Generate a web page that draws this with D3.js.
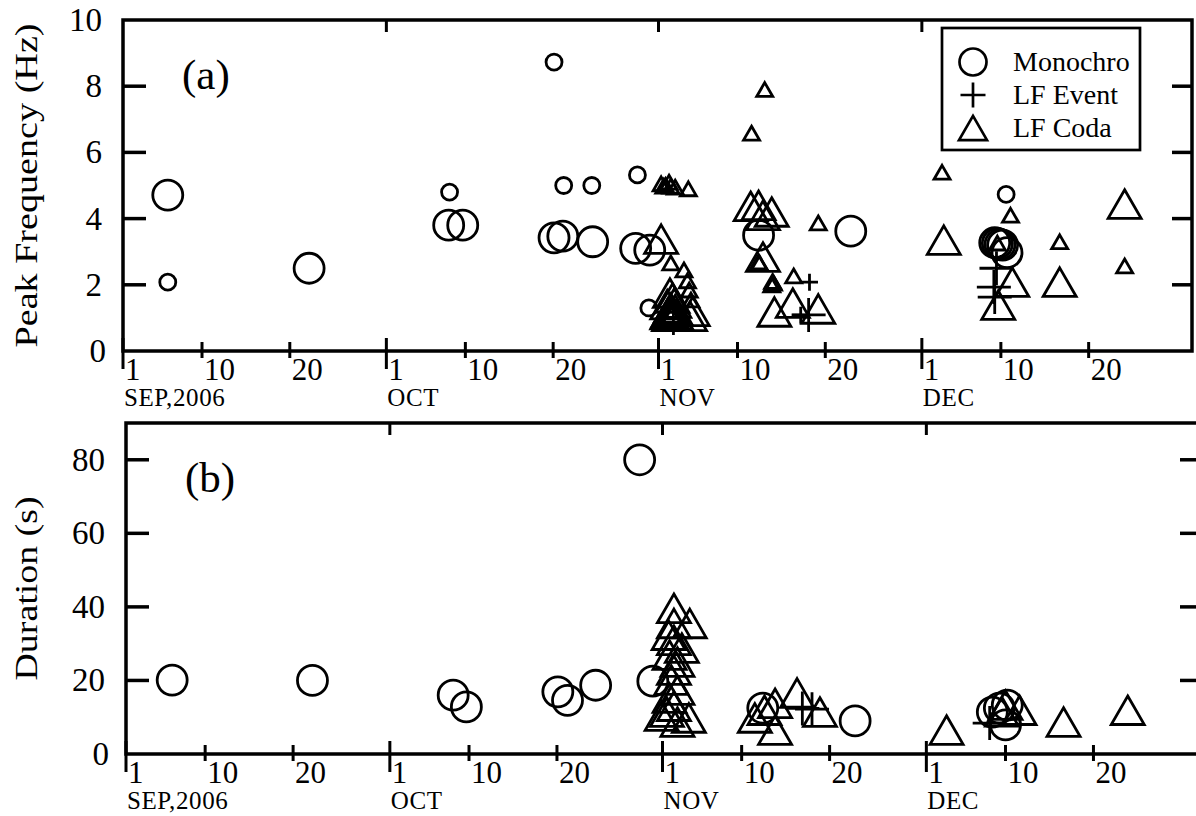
<!DOCTYPE html>
<html>
<head>
<meta charset="utf-8">
<script src="https://cdn.jsdelivr.net/npm/d3@7"></script>
<style>
  body { margin: 0; background: #fff; }
  svg text { font-family: "Liberation Serif", "Times New Roman", serif; fill: #000; }
</style>
</head>
<body>
<div id="chart"></div>
<script>
/* Peak frequency and duration of events, Sep-Dec 2006 */

// time = days after 2006-09-01 00:00 UTC, size L = large marker, S = small marker
const freqMono = [
  [5.1, 4.71, "L"], [5.1, 2.08, "S"], [21.2, 2.5, "L"],
  [37.2, 4.8, "S"], [37.1, 3.8, "L"], [38.7, 3.8, "L"],
  [49.1, 8.73, "S"], [49.1, 3.42, "L"], [50.1, 3.47, "L"], [53.5, 3.3, "L"],
  [50.2, 5.0, "S"], [53.4, 5.0, "S"], [58.6, 5.32, "S"],
  [58.4, 3.1, "L"], [60.0, 3.05, "L"], [59.9, 1.3, "S"],
  [72.4, 3.5, "L"], [82.9, 3.62, "L"], [100.6, 4.73, "S"],
  [99.3, 3.27, "L"], [99.6, 3.25, "L"], [99.9, 3.22, "L"], [100.2, 3.2, "L"], [100.7, 2.97, "L"]
];
const freqEvent = [
  [62.7, 1.0, "L"], [78.2, 2.08, "S"], [78.1, 1.09, "L"], [77.2, 1.08, "S"],
  [99.5, 2.5, "L"], [99.2, 1.93, "L"], [99.3, 1.63, "L"]
];
const freqCoda = [
  [61.3, 5.05, "S"], [61.8, 5.0, "S"], [62.2, 5.1, "S"], [61.6, 4.98, "S"], [62.4, 4.98, "S"],
  [62.9, 4.95, "S"], [64.4, 4.9, "S"],
  [61.3, 3.38, "L"], [62.4, 2.66, "S"], [63.9, 2.45, "S"], [64.3, 2.12, "S"], [64.5, 1.84, "S"],
  [64.7, 1.54, "S"], [64.9, 1.2, "L"], [64.6, 1.05, "L"],
  [62.3, 1.75, "L"], [62.6, 1.6, "L"], [62.0, 1.4, "L"], [62.8, 1.45, "L"], [62.4, 1.3, "L"],
  [62.9, 1.25, "L"], [62.1, 1.15, "L"], [62.5, 1.1, "L"], [62.2, 1.05, "L"], [62.7, 1.05, "L"],
  [62.3, 1.2, "L"], [63.0, 1.1, "L"], [62.0, 1.1, "L"],
  [73.1, 7.9, "S"], [71.6, 6.58, "S"],
  [71.5, 4.37, "L"], [72.4, 4.4, "L"], [73.9, 4.2, "L"], [72.9, 4.1, "L"],
  [79.2, 3.87, "S"], [72.9, 2.84, "L"], [72.4, 2.69, "S"], [72.5, 2.66, "S"],
  [74.0, 2.1, "S"], [74.1, 2.05, "S"], [73.9, 2.0, "S"], [76.4, 2.27, "S"],
  [74.2, 1.18, "L"], [76.3, 1.45, "L"], [79.2, 1.27, "L"],
  [93.3, 5.4, "S"], [93.5, 3.35, "L"], [101.1, 4.1, "S"], [106.7, 3.3, "S"],
  [106.7, 2.08, "L"], [114.1, 4.44, "L"], [114.1, 2.57, "S"],
  [99.7, 1.39, "L"], [101.3, 2.08, "L"], [99.6, 3.26, "S"]
];

const durMono = [
  [5.25, 20.1], [21.2, 20.0], [37.2, 16.0], [38.7, 12.8], [49.1, 16.9], [50.2, 14.6],
  [53.4, 18.7], [58.4, 80], [59.9, 19.8], [72.4, 12.5], [82.9, 9.0],
  [99.3, 12.5], [100.2, 13.3], [100.0, 7.9], [98.5, 11.4]
];
const durEvent = [
  [78.0, 12.2], [76.9, 12.4], [98.2, 8.4]
];
const durCoda = [
  [62.3, 39.6], [64.1, 35.5], [62.3, 35.5], [61.7, 32.3], [62.3, 30.9], [63.2, 28.8],
  [61.8, 26.9], [62.7, 25.0], [62.3, 22.8], [62.0, 20.1], [62.7, 17.4], [61.8, 15.2],
  [62.3, 13.0], [61.5, 11.4], [64.0, 9.8], [62.7, 8.7], [60.9, 10.3],
  [71.5, 9.8], [72.6, 11.9], [73.8, 6.5], [73.8, 13.8], [76.3, 16.6], [78.9, 11.4],
  [93.3, 6.5], [100.0, 13.3], [101.6, 11.9], [99.6, 11.5], [106.6, 8.7], [113.9, 11.9]
];

const months = ["SEP,2006", "OCT", "NOV", "DEC"];
const dayTicks = [1, 10, 20];
const freqTicks = [0, 2, 4, 6, 8, 10];
const durTicks = [0, 20, 40, 60, 80];
const legendItems = ["Monochro", "LF Event", "LF Coda"];

const width = 1196, height = 816;
const t0 = Date.UTC(2006, 8, 1);
const toDate = d => new Date(t0 + d * 864e5);

const svg = d3.select("#chart").append("svg")
    .attr("width", width).attr("height", height)
    .attr("viewBox", [0, 0, width, height]);

// symbol shapes: triangle centred on its box, thin plus, circle by diameter
const triMid = {
  draw(ctx, size) {
    const s = size, h = s * Math.sqrt(3) / 2;
    ctx.moveTo(0, -h / 2); ctx.lineTo(s / 2, h / 2); ctx.lineTo(-s / 2, h / 2); ctx.closePath();
  }
};
const plus = {
  draw(ctx, size) {
    const r = size / 2;
    ctx.moveTo(-r, 0); ctx.lineTo(r, 0); ctx.moveTo(0, -r); ctx.lineTo(0, r);
  }
};
const circ = {
  draw(ctx, size) { const r = size / 2; ctx.moveTo(r, 0); ctx.arc(0, 0, r, 0, 2 * Math.PI); }
};
const dims = {
  circle: { L: 30, S: 16 },
  plus: { L: 34, S: 17 },
  tri: { L: 33, S: 16 }
};

const monthStarts = d3.range(4).map(i => new Date(Date.UTC(2006, 8 + i, 1)));
const dayDates = monthStarts.flatMap(m => dayTicks.map(d => new Date(Date.UTC(2006, m.getUTCMonth(), d))));

function panel(cfg) {
  const x = d3.scaleUtc()
      .domain([new Date(Date.UTC(2006, 8, 1)), new Date(Date.UTC(2007, 0, 1))])
      .range([cfg.left, cfg.xEnd]);
  const y = d3.scaleLinear().domain(cfg.domain).range([cfg.bottom, cfg.top]);
  const g = svg.append("g");

  // frame
  g.append("rect")
      .attr("x", cfg.left).attr("y", cfg.top)
      .attr("width", cfg.right - cfg.left).attr("height", cfg.bottom - cfg.top)
      .attr("fill", "none").attr("stroke", "#000").attr("stroke-width", 3.5);

  // y ticks, inward on both sides
  const inner = cfg.ticks.filter(v => v > cfg.domain[0] && v < cfg.domain[1]);
  g.selectAll(".yl").data(inner).join("line")
      .attr("x1", cfg.left).attr("x2", cfg.left + 23)
      .attr("y1", d => y(d)).attr("y2", d => y(d))
      .attr("stroke", "#000").attr("stroke-width", 3.5);
  g.selectAll(".yr").data(inner).join("line")
      .attr("x1", cfg.right - 20).attr("x2", cfg.right)
      .attr("y1", d => y(d)).attr("y2", d => y(d))
      .attr("stroke", "#000").attr("stroke-width", 3.5);
  g.selectAll(".ytxt").data(cfg.ticks).join("text")
      .attr("x", d => d === 0 ? cfg.left - 17 : cfg.left - 21)
      .attr("y", d => y(d) + 11)
      .attr("text-anchor", "end")
      .style("font-size", "33px")
      .text(d => d);

  // x ticks: day ticks cross the axis, month ticks longer
  g.selectAll(".xt").data(dayDates).join("line")
      .attr("x1", d => x(d)).attr("x2", d => x(d))
      .attr("y1", d => cfg.bottom - (d.getUTCDate() === 1 ? 13 : 9))
      .attr("y2", d => cfg.bottom + (d.getUTCDate() === 1 ? 18 : 7))
      .attr("stroke", "#000").attr("stroke-width", 3);
  g.selectAll(".xtop").data(monthStarts.slice(1)).join("line")
      .attr("x1", d => x(d)).attr("x2", d => x(d))
      .attr("y1", cfg.top).attr("y2", cfg.top + 12)
      .attr("stroke", "#000").attr("stroke-width", 3);
  g.selectAll(".xtxt").data(dayDates).join("text")
      .attr("x", d => x(d) + 2)
      .attr("y", cfg.bottom + 29)
      .style("font-size", "31px")
      .text(d => d.getUTCDate());
  g.selectAll(".mtxt").data(monthStarts).join("text")
      .attr("x", d => x(d) + 1)
      .attr("y", cfg.bottom + 55)
      .style("font-size", "25px")
      .style("letter-spacing", "0.6px")
      .text((d, i) => months[i]);

  // axis title and panel tag
  g.append("text")
      .attr("transform", `translate(37,${(cfg.top + cfg.bottom) / 2}) rotate(-90)`)
      .attr("text-anchor", "middle")
      .style("font-size", "32px")
      .attr("textLength", cfg.titleLen).attr("lengthAdjust", "spacingAndGlyphs")
      .text(cfg.title);
  g.append("text")
      .attr("x", cfg.left + 59).attr("y", cfg.top + 69)
      .style("font-size", "43px")
      .text(cfg.tag);

  // marks
  const sets = [
    [cfg.mono, circ, "circle"],
    [cfg.event, plus, "plus"],
    [cfg.coda, triMid, "tri"]
  ];
  sets.forEach(([data, type, key]) => {
    g.append("g").selectAll("path").data(data).join("path")
        .attr("transform", d => `translate(${x(toDate(d[0]))},${y(d[1])})`)
        .attr("d", d => d3.symbol(type, dims[key][d[2] || "L"])())
        .attr("fill", "none").attr("stroke", "#000").attr("stroke-width", 2.8);
  });
}

panel({
  left: 123, right: 1192, xEnd: 1194, top: 20, bottom: 351, domain: [0, 10], ticks: freqTicks,
  title: "Peak Frequency (Hz)", titleLen: 324, tag: "(a)",
  mono: freqMono, event: freqEvent, coda: freqCoda
});
panel({
  left: 126, right: 1200, xEnd: 1199, top: 423, bottom: 754, domain: [0, 90], ticks: durTicks,
  title: "Duration (s)", titleLen: 184, tag: "(b)",
  mono: durMono.map(d => [d[0], d[1], "L"]),
  event: durEvent.map(d => [d[0], d[1], "L"]),
  coda: durCoda.map(d => [d[0], d[1], "L"])
});

// legend
const leg = svg.append("g");
leg.append("rect")
    .attr("x", 942).attr("y", 28).attr("width", 198).attr("height", 122)
    .attr("fill", "#fff").attr("stroke", "#000").attr("stroke-width", 2.7);
const legTypes = [[circ, 27], [plus, 25], [triMid, 28]];
leg.selectAll(".li").data(legendItems).join("g")
    .attr("transform", (d, i) => `translate(973,${62 + i * 33})`)
    .each(function(d, i) {
      const row = d3.select(this);
      row.append("path")
          .attr("d", d3.symbol(legTypes[i][0], legTypes[i][1])())
          .attr("fill", "none").attr("stroke", "#000").attr("stroke-width", 2.7);
      row.append("text")
          .attr("x", 40).attr("y", 9)
          .style("font-size", "28px")
          .text(d);
    });
</script>
</body>
</html>
